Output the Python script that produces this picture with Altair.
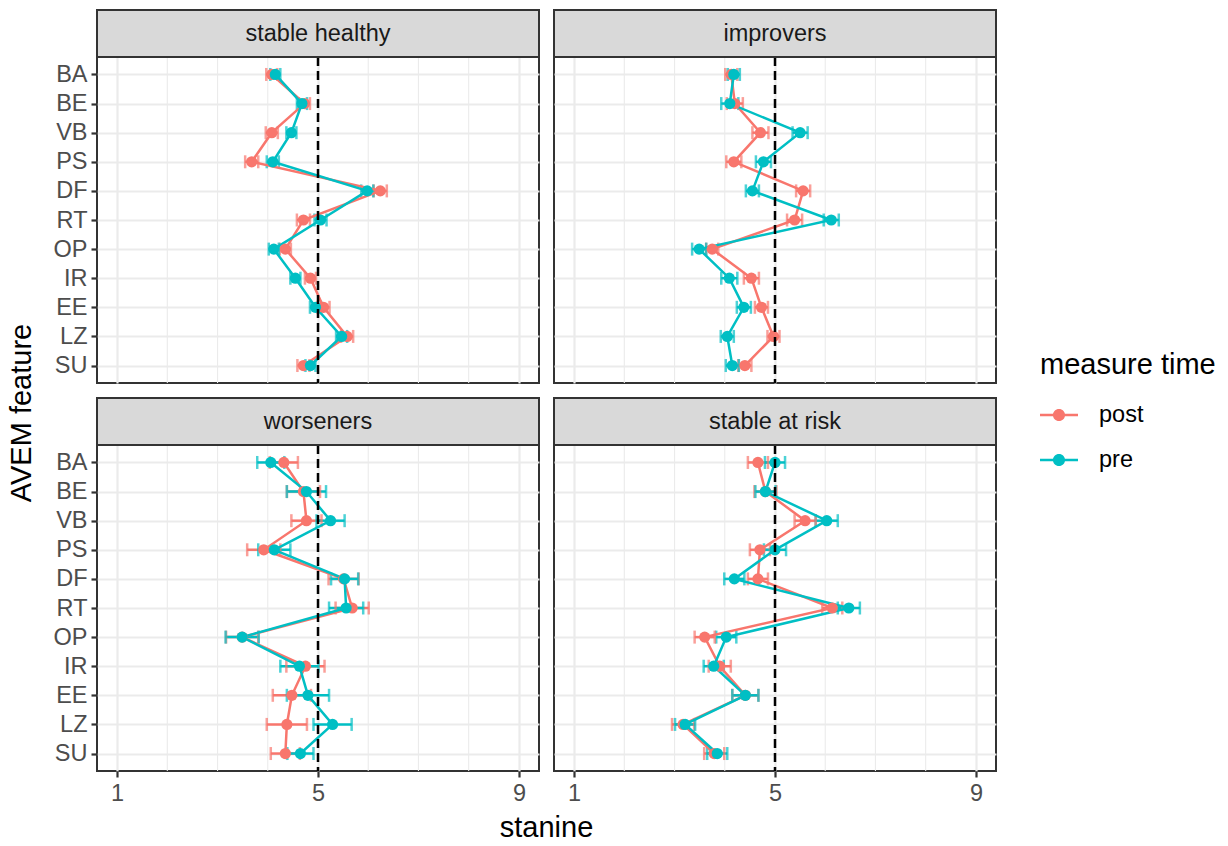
import altair as alt
import pandas as pd

features = ["BA", "BE", "VB", "PS", "DF", "RT", "OP", "IR", "EE", "LZ", "SU"]
panel_names = ["stable healthy", "improvers", "worseners", "stable at risk"]
times = ["post", "pre"]
colors = ["#F8766D", "#00BFC4"]

# mean stanine values per panel (order = features)
sh_post = [4.08, 4.73, 4.08, 3.68, 6.24, 4.71, 4.35, 4.85, 5.11, 5.58, 4.71]
sh_pre = [4.15, 4.68, 4.47, 4.10, 5.98, 5.05, 4.12, 4.55, 4.95, 5.47, 4.85]
im_post = [4.13, 4.20, 4.71, 4.18, 5.56, 5.39, 3.75, 4.53, 4.73, 4.97, 4.40]
im_pre = [4.18, 4.10, 5.50, 4.77, 4.55, 6.12, 3.49, 4.09, 4.38, 4.05, 4.15]
wo_post = [4.32, 4.71, 4.77, 3.92, 5.51, 5.68, 3.49, 4.75, 4.48, 4.38, 4.35]
wo_pre = [4.06, 4.77, 5.25, 4.13, 5.53, 5.56, 3.49, 4.63, 4.80, 5.29, 4.65]
ar_post = [4.66, 4.81, 5.60, 4.70, 4.66, 6.14, 3.60, 3.90, 4.41, 3.17, 3.79]
ar_pre = [5.00, 4.81, 6.03, 5.00, 4.19, 6.47, 4.03, 3.78, 4.41, 3.21, 3.85]

# half-widths of the error bars
sh_post_ci = [0.11, 0.11, 0.12, 0.13, 0.13, 0.13, 0.11, 0.11, 0.12, 0.12, 0.12]
sh_pre_ci = [0.10, 0.10, 0.10, 0.12, 0.12, 0.12, 0.10, 0.10, 0.11, 0.11, 0.10]
im_post_ci = [0.12, 0.16, 0.16, 0.15, 0.14, 0.15, 0.12, 0.15, 0.13, 0.12, 0.13]
im_pre_ci = [0.12, 0.17, 0.15, 0.15, 0.13, 0.15, 0.14, 0.16, 0.14, 0.13, 0.13]
wo_post_ci = [0.28, 0.33, 0.30, 0.33, 0.30, 0.33, 0.32, 0.38, 0.38, 0.40, 0.29]
wo_pre_ci = [0.27, 0.39, 0.28, 0.32, 0.27, 0.34, 0.33, 0.38, 0.42, 0.38, 0.26]
ar_post_ci = [0.20, 0.22, 0.21, 0.20, 0.20, 0.20, 0.20, 0.22, 0.26, 0.22, 0.20]
ar_pre_ci = [0.20, 0.20, 0.22, 0.22, 0.20, 0.22, 0.20, 0.20, 0.26, 0.20, 0.20]

x_ticks = [1, 5, 9]
minor_grid = [2, 3, 4, 6, 7, 8]
ref_line = [5]

series = {
    "stable healthy": (sh_post, sh_pre, sh_post_ci, sh_pre_ci),
    "improvers": (im_post, im_pre, im_post_ci, im_pre_ci),
    "worseners": (wo_post, wo_pre, wo_post_ci, wo_pre_ci),
    "stable at risk": (ar_post, ar_pre, ar_post_ci, ar_pre_ci),
}

rows = []
for p in panel_names:
    post, pre, post_ci, pre_ci = series[p]
    for t, means, cis in (("post", post, post_ci), ("pre", pre, pre_ci)):
        for i, f in enumerate(features):
            rows.append({"panel": p, "feature": f, "time": t, "idx": i,
                         "mean": means[i], "lo": means[i] - cis[i], "hi": means[i] + cis[i]})
df = pd.DataFrame(rows)

W, H = 442, 326
STRIP = 47
FONT = "Liberation Sans"
LW = 2.5

xs = alt.Scale(domain=[0.6, 9.4], nice=False, zero=False)
ys = alt.Scale(type="point", padding=0.6, domain=features)
cs = alt.Scale(domain=times, range=colors)

legend = alt.Legend(
    title="measure time", orient="none", legendX=943, legendY=294,
    symbolType="M-1,-0.065L1,-0.065L1,0.065L-1,0.065Z M-0.32,0A0.32,0.32,0,1,1,0.32,0A0.32,0.32,0,1,1,-0.32,0Z",
    symbolSize=1444, symbolStrokeWidth=0, symbolOpacity=1,
    titleFontSize=29, titleFontWeight="normal", titleColor="black", titleFont=FONT,
    labelFontSize=23.5, labelColor="black", labelFont=FONT, labelOffset=21,
    rowPadding=14, titlePadding=16, padding=0)
color = alt.Color("time:N", scale=cs, legend=legend, title="measure time")


def make_panel(name, left, bottom, extra=None):
    d = df[df.panel == name]
    xaxis = alt.Axis(values=x_ticks, title=None, labels=bottom, ticks=bottom, grid=True,
                     domain=False, format="d")
    yaxis = alt.Axis(title=None, labels=left, ticks=left, grid=True, domain=False)
    base = alt.Chart(d)

    minor = alt.Chart(pd.DataFrame({"v": minor_grid})).mark_rule(
        color="#EBEBEB", strokeWidth=1.1).encode(
        x=alt.X("v:Q", scale=xs, axis=xaxis))
    bars = base.mark_rule(strokeWidth=LW).encode(
        x=alt.X("lo:Q", scale=xs, axis=xaxis), x2="hi:Q",
        y=alt.Y("feature:N", scale=ys, axis=yaxis), color=color)
    cap_lo = base.mark_tick(size=13, thickness=LW).encode(
        x=alt.X("lo:Q", scale=xs, axis=xaxis),
        y=alt.Y("feature:N", scale=ys, axis=yaxis), color=color)
    cap_hi = base.mark_tick(size=13, thickness=LW).encode(
        x=alt.X("hi:Q", scale=xs, axis=xaxis),
        y=alt.Y("feature:N", scale=ys, axis=yaxis), color=color)
    line = base.mark_line(strokeWidth=LW).encode(
        x=alt.X("mean:Q", scale=xs, axis=xaxis),
        y=alt.Y("feature:N", scale=ys, axis=yaxis),
        color=color, order=alt.Order("idx:Q"))
    pts = base.mark_circle(size=125, opacity=1).encode(
        x=alt.X("mean:Q", scale=xs, axis=xaxis),
        y=alt.Y("feature:N", scale=ys, axis=yaxis), color=color)
    ref = alt.Chart(pd.DataFrame({"r": ref_line})).mark_rule(
        color="black", strokeWidth=LW, strokeDash=[9, 5]).encode(
        x=alt.X("r:Q", scale=xs, axis=xaxis))
    lab = pd.DataFrame({"label": [name]})
    strip = alt.Chart(lab).mark_rect(fill="#D9D9D9", stroke="#333333", strokeWidth=2).encode(
        x=alt.value(0), x2=alt.value(W), y=alt.value(-STRIP), y2=alt.value(0))
    strip_text = alt.Chart(lab).mark_text(fontSize=23.5, color="#1A1A1A", font=FONT,
                                          baseline="middle", align="center").encode(
        x=alt.value(W / 2), y=alt.value(-STRIP / 2), text="label:N")
    layers = [minor, bars, cap_lo, cap_hi, line, pts, ref, strip, strip_text]
    if extra:
        layers += extra
    return alt.layer(*layers).properties(width=W, height=H)


y_title = alt.Chart(pd.DataFrame({"t": ["AVEM feature"]})).mark_text(
    fontSize=29, color="black", font=FONT, angle=270, align="center", baseline="middle").encode(
    x=alt.value(-75), y=alt.value(-32), text="t:N")
x_title = alt.Chart(pd.DataFrame({"t": ["stanine"]})).mark_text(
    fontSize=29, color="black", font=FONT, align="center", baseline="middle").encode(
    x=alt.value(449.5), y=alt.value(383), text="t:N")

p1 = make_panel("stable healthy", True, False)
p2 = make_panel("improvers", False, False)
p3 = make_panel("worseners", True, True, extra=[y_title, x_title])
p4 = make_panel("stable at risk", False, True)

chart = alt.concat(p1, p2, p3, p4, columns=2, spacing={"row": 62, "column": 15},
                   bounds="flush").properties(
    padding={"left": 6, "top": 8, "right": 5, "bottom": 5}
).configure(font=FONT, background="white").configure_view(
    stroke="#333333", strokeWidth=2
).configure_axis(
    gridColor="#EBEBEB", gridWidth=2.2, tickColor="#333333", tickWidth=2.2, tickSize=6,
    labelColor="#4D4D4D", labelFontSize=23.5, labelFont=FONT, labelPadding=4
)

chart.save("out.html", embed_options={"renderer": "svg", "actions": False})
